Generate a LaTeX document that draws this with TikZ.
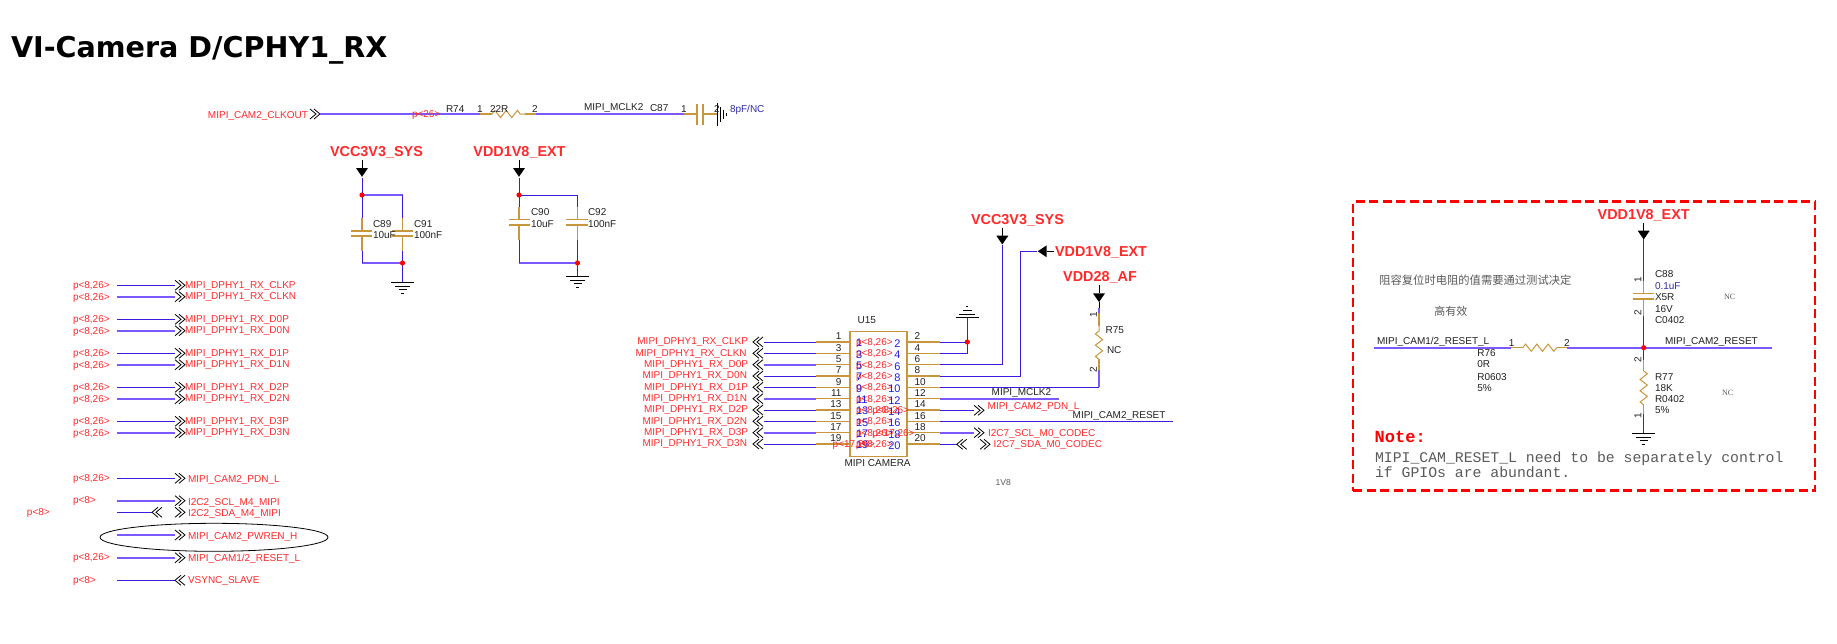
\documentclass[tikz,border=0pt]{standalone}
\usepackage{fontspec}
\setmainfont{Liberation Sans}
\newfontfamily\titlefont{DejaVu Sans}
\newfontfamily\monofont{Liberation Mono}
\newfontfamily\seriffont{Liberation Serif}
\newfontfamily\cjkfont{Noto Sans CJK SC}
\usetikzlibrary{shapes.geometric,decorations.pathmorphing}
\definecolor{wiredark}{HTML}{3A1BE0}
\definecolor{wirelight}{HTML}{7B58FF}
\definecolor{tan}{HTML}{C8963C}
\definecolor{lblred}{HTML}{FF2A2A}
\definecolor{lblblack}{HTML}{222222}
\definecolor{valblue}{HTML}{2F2FA8}
\definecolor{pinblue}{HTML}{2020E0}
\definecolor{notegray}{HTML}{5A5A5A}
\newcounter{tn}
\newcommand\lab[4][]{\stepcounter{tn}\node[txt,#1] (t\arabic{tn}) at (#2,#3) {#4};}
\tikzset{
  txt/.style={inner sep=0pt,outer sep=0pt,font=\fontsize{10}{12}\selectfont,text height=7.2pt,text depth=0pt,text=lblblack},
  rt/.style={text=lblred},
  pb/.style={text=pinblue,font=\fontsize{11}{12}\selectfont,text height=7.9pt},
  W/.style={anchor=west},
  E/.style={anchor=east},
  pwrlbl/.style={text=lblred,font=\fontsize{14.4}{16}\selectfont\bfseries,text height=10.3pt},
  wt/.style={draw=wiredark,line width=1pt},
  wk/.style={draw=wirelight,line width=1.6pt},
  tanw/.style={draw=tan,line width=1.1pt},
  plate/.style={draw=tan,line width=1.5pt},
  zigh/.style={draw=tan,line width=1pt,decorate,decoration={zigzag,segment length=11.3pt,amplitude=3.6pt}},
  gndw/.style={draw=black,line width=1pt},
  dot/.style={fill=red,draw=none},
  chevr/.pic={\draw[black,line width=.8pt] (0,-5)--(6,0)--(0,5) (4,-5)--(10,0)--(4,5);},
  chevl/.pic={\draw[black,line width=.8pt] (6,-5)--(0,0)--(6,5) (10,-5)--(4,0)--(10,5);},
  pwrdown/.pic={\draw[black,line width=.8pt] (0,-8)--(0,0); \fill[black] (-6,0)--(6,0)--(0,8.8)--cycle;},
  pwrleft/.pic={\draw[black,line width=.8pt] (0,0)--(7.5,0); \fill[black] (0,-6)--(0,6)--(-9,0)--cycle;},
  gnddown/.pic={\draw[gndw] (-11.5,0)--(11.5,0) (-7.5,4)--(7.5,4) (-4,7.5)--(4,7.5) (-1.5,11)--(1.5,11);},
  gndup/.pic={\draw[gndw] (-11.5,0)--(11.5,0) (-8,-3.3)--(8,-3.3) (-4.3,-7)--(4.3,-7) (-1,-10.6)--(1,-10.6);},
}
\begin{document}
\begin{tikzpicture}[x=1pt,y=-1pt]
\useasboundingbox (0,0) rectangle (1837,643);
\fill[white] (0,0) rectangle (1837,643);
% title
\lab[W,font=\titlefont\bfseries\fontsize{28.6}{30}\selectfont,text=black,text height=20.8pt]{11}{47.5}{VI-Camera D/CPHY1\_RX}
% top clock line
\coordinate (clkS) at (320,114); \coordinate (r74a) at (480,114); \coordinate (r74b) at (492,114);
\coordinate (r74c) at (525,114); \coordinate (r74d) at (536,114); \coordinate (c87a) at (684,114);
\coordinate (c87b) at (697,114); \coordinate (c87c) at (703,114); \coordinate (c87d) at (717,114);
\pic at (310,114) {chevr};
\draw[wk] (clkS)--(r74a);
\draw[tanw] (r74a)--(r74b) (r74c)--(r74d);
\draw[zigh] (r74b)--(r74c);
\draw[wk] (r74d)--(c87a);
\draw[tanw] (c87a)--(c87b) (c87c)--(c87d);
\draw[plate] (697,104)--(697,125) (703,104)--(703,125);
\draw[gndw] (717,103)--(717,126) (720,107)--(720,122) (723,110)--(723,119) (726,113)--(726,116);
\lab[E,rt]{308}{115}{MIPI\_CAM2\_CLKOUT}
\lab[W,rt]{412}{114}{p<26>}
\lab[W]{446}{108.7}{R74}
\lab{480}{109}{1}
\lab[W]{490}{109}{22R}
\lab{535}{109}{2}
\lab[W]{584}{107}{MIPI\_MCLK2}
\lab[W]{650}{108}{C87}
\lab{684}{109}{1}
\lab{717}{109}{2}
\lab[W,text=valblue]{730}{109}{8pF/NC}
% VCC3V3 caps
\lab[pwrlbl]{376.5}{151}{VCC3V3\_SYS}
\pic at (362,168) {pwrdown};
\coordinate (n1) at (362,195); \coordinate (n2) at (402.5,263);
\coordinate (n1r) at (402.5,195); \coordinate (n2l) at (362,263);
\draw[wt] (362,178)--(n1);
\draw[wk] (n1)--(n1r);
\draw[wk] (n2l)--(n2);
\draw[wt] (n1)--(362,218) (362,251)--(n2l) (n1r)--(402.5,218) (402.5,251)--(n2);
\draw[tanw] (362,218)--(362,231) (362,236)--(362,251) (402.5,218)--(402.5,231) (402.5,236)--(402.5,251);
\draw[plate] (351,231)--(372,231) (351,236)--(372,236) (392,231)--(413,231) (392,236)--(413,236);
\draw[wt] (n2)--(402.5,282);
\pic at (402.5,282) {gnddown};
\fill[dot] (n1) circle (2.6pt) (n2) circle (2.6pt);
\lab[W]{373}{224}{C89}\lab[W]{373}{235}{10uF}\lab[W]{414}{224}{C91}\lab[W]{414}{235}{100nF}
% VDD1V8 caps
\lab[pwrlbl]{519.5}{151}{VDD1V8\_EXT}
\pic at (519,168) {pwrdown};
\coordinate (n3) at (519,195); \coordinate (n4) at (577.5,263);
\coordinate (n3r) at (577.5,195); \coordinate (n4l) at (519,263);
\draw[wt] (519,178)--(n3)--(n3r);
\draw[wk] (n4l)--(n4);
\draw[wt] (n3)--(519,207) (519,240)--(n4l) (n3r)--(577.5,207) (577.5,240)--(n4);
\draw[tanw] (519,207)--(519,219.5) (519,225)--(519,240) (577.5,207)--(577.5,219.5) (577.5,225)--(577.5,240);
\draw[plate] (509,219.5)--(530,219.5) (509,225)--(530,225) (566,219.5)--(588,219.5) (566,225)--(588,225);
\draw[wt] (n4)--(577.5,276);
\pic at (577.5,276) {gnddown};
\fill[dot] (n3) circle (2.6pt) (n4) circle (2.6pt);
\lab[W]{531}{212}{C90}\lab[W]{531}{224}{10uF}\lab[W]{588}{212}{C92}\lab[W]{588}{224}{100nF}
% left list
\foreach \y/\s/\t in {285.3/wt/CLKP,296.7/wk/CLKN,319.3/wt/D0P,330.7/wk/D0N,353.3/wt/D1P,364.7/wk/D1N,387.3/wt/D2P,398.7/wk/D2N,421.3/wt/D3P,432.7/wk/D3N}{
  \coordinate (lA) at (117.3,\y); \coordinate (lB) at (175,\y);
  \draw[\s] (lA)--(lB);
  \pic at (175,\y) {chevr};
  \lab[W,rt]{73}{\y-0.2}{p<8,26>}
  \lab[W,rt]{185}{\y-0.4}{MIPI\_DPHY1\_RX\_\t}
}
\foreach \y/\s in {478.3/wt,500.7/wk,535/wk,557.7/wk}{
  \coordinate (lA) at (117.3,\y); \coordinate (lB) at (175,\y);
  \draw[\s] (lA)--(lB);
  \pic at (175,\y) {chevr};
}
\coordinate (sdaA) at (117.3,512.3); \coordinate (sdaB) at (152,512.3);
\draw[wt] (sdaA)--(sdaB);
\pic at (152,512.3) {chevl};
\pic at (175,512.3) {chevr};
\coordinate (vsA) at (117.3,580.3); \coordinate (vsB) at (175,580.3);
\draw[wt] (vsA)--(vsB);
\pic at (175,580.3) {chevl};
\lab[W,rt]{73}{477.6}{p<8,26>}
\lab[W,rt]{73}{499.8}{p<8>}
\lab[W,rt]{27}{512}{p<8>}
\lab[W,rt]{73}{556.6}{p<8,26>}
\lab[W,rt]{73}{580}{p<8>}
\lab[W,rt]{188}{478.4}{MIPI\_CAM2\_PDN\_L}
\lab[W,rt]{188}{501.8}{I2C2\_SCL\_M4\_MIPI}
\lab[W,rt]{188}{512.8}{I2C2\_SDA\_M4\_MIPI}
\lab[W,rt]{188}{535.8}{MIPI\_CAM2\_PWREN\_H}
\lab[W,rt]{188}{557.8}{MIPI\_CAM1/2\_RESET\_L}
\lab[W,rt]{188}{580.3}{VSYNC\_SLAVE}
\node[ellipse,draw=black,line width=.8pt,minimum width=228pt,minimum height=28pt,inner sep=0pt] (pwrring) at (214,537.3) {};
% connector U15
\node[draw=tan,line width=1.3pt,minimum width=57pt,minimum height=125pt,inner sep=0pt,anchor=north west] (u15) at (849.3,330.7) {};
\foreach \a/\b/\y/\s/\t/\xe in {1/2/342/wt/CLKP/748,3/4/353.3/wt/CLKN/746.7,5/6/364.7/wk/D0P/748,7/8/376/wt/D0N/747,9/10/387.3/wt/D1P/748,11/12/398.7/wk/D1N/747,13/14/410/wt/D2P/748,15/16/421.3/wt/D2N/747,17/18/432.7/wk/D3P/748,19/20/444/wt/D3N/747}{
  \coordinate (pA) at (764,\y); \coordinate (pB) at (816,\y); \coordinate (pC) at (849.3,\y);
  \coordinate (qA) at (906.3,\y); \coordinate (qB) at (940,\y);
  \draw[\s] (pA)--(pB);
  \draw[tanw] (pB)--(pC) (qA)--(qB);
  \pic at (753,\y) {chevl};
  \lab[E,rt]{\xe}{\y-0.7}{MIPI\_DPHY1\_RX\_\t}
  \lab[E]{841.5}{\y-5.7}{\a}
  \lab[W]{914.5}{\y-5.7}{\b}
  \lab[W,rt]{856}{\y-0.3}{p<8,26>}
  \lab[W,pb]{856}{\y+0.9}{\a}
  \lab[E,pb]{900.5}{\y+1.7}{\b}
}
\lab[W,rt]{872.3}{410}{p<8,26>}
\lab[W,rt]{872.3}{432.7}{p<17,26>}
\lab[W,rt]{832.7}{444}{p<17,26>}
\lab[W]{857.7}{320}{U15}
\lab{877.6}{463}{MIPI CAMERA}
% right side of connector
\coordinate (gA) at (940,342); \coordinate (gB) at (967.3,342);
\coordinate (gC) at (940,353.3); \coordinate (gD) at (967.3,353.3); \coordinate (gE) at (967.3,317.3);
\draw[wt] (gA)--(gB) (gC)--(gD)--(gE);
\pic at (967.3,317.3) {gndup};
\fill[dot] (gB) circle (2.6pt);
\coordinate (vA) at (940,364.7); \coordinate (vB) at (1002.3,364.7); \coordinate (vC) at (1002.3,245);
\draw[wt] (vA)--(vB)--(vC);
\pic at (1002.3,235.7) {pwrdown};
\lab[pwrlbl]{1017.5}{219}{VCC3V3\_SYS}
\coordinate (dA) at (940,376); \coordinate (dB) at (1020.7,376); \coordinate (dC) at (1020.7,251.3); \coordinate (dD) at (1037.3,251.3);
\draw[wt] (dA)--(dB)--(dC)--(dD);
\pic at (1046.7,251.3) {pwrleft};
\lab[pwrlbl,W]{1055}{251}{VDD1V8\_EXT}
\coordinate (aA) at (940,387.3); \coordinate (aB) at (1099,387.3); \coordinate (aC) at (1099,370);
\coordinate (aD) at (1099,359.3); \coordinate (aE) at (1099,326); \coordinate (aF) at (1099,313.3); \coordinate (aG) at (1099,301.7);
\draw[wt] (aA)--(aB);
\draw[wk] (aB)--(aC) (aF)--(1099,308);
\draw[tanw] (aC)--(aD) (aE)--(aF);
\draw[zigh] (aD)--(aE);
\draw[black,line width=1pt] (aG)--(1099,308);
\pic at (1099,293.3) {pwrdown};
\lab[pwrlbl]{1100}{276.3}{VDD28\_AF}
\lab[rotate=90]{1093.3}{314.3}{1}
\lab[rotate=90]{1093.3}{369.3}{2}
\lab[W]{1105.7}{330.3}{R75}
\lab[W]{1107}{350.3}{NC}
\coordinate (mA) at (940,398.7); \coordinate (mB) at (1059.3,398.7);
\draw[wk] (mA)--(mB);
\lab[W]{991.7}{391.7}{MIPI\_MCLK2}
\coordinate (pdA) at (940,410.3); \coordinate (pdB) at (974,410.3);
\draw[wt] (pdA)--(pdB);
\pic at (974,410.3) {chevr};
\lab[W,rt]{987.7}{406.3}{MIPI\_CAM2\_PDN\_L}
\coordinate (rsA) at (940,421.3); \coordinate (rsB) at (1172.7,421.3);
\draw[wt] (rsA)--(rsB);
\lab[W]{1072.7}{414.7}{MIPI\_CAM2\_RESET}
\coordinate (scA) at (940,432.7); \coordinate (scB) at (974,432.7);
\draw[wk] (scA)--(scB);
\pic at (974,432.7) {chevr};
\lab[W,rt]{988}{433.3}{I2C7\_SCL\_M0\_CODEC}
\coordinate (sdA) at (940,444.3); \coordinate (sdB) at (956.7,444.3);
\draw[wt] (sdA)--(sdB);
\pic at (956.7,444.3) {chevl};
\pic at (980,444.3) {chevr};
\lab[W,rt]{993.7}{444.3}{I2C7\_SDA\_M0\_CODEC}
\lab[W,text=notegray,font=\fontsize{8.6}{10}\selectfont]{995.7}{482}{1V8}
% red note box
\node[draw=red,line width=2.4pt,dash pattern=on 9pt off 4.5pt,minimum width=462pt,minimum height=289pt,inner sep=0pt,anchor=north west] (notebox) at (1352,200.3) {};
\lab[pwrlbl]{1643.7}{214}{VDD1V8\_EXT}
\pic at (1643.7,230.7) {pwrdown};
\coordinate (j) at (1643.7,347.7);
\coordinate (c88a) at (1643.7,280.7); \coordinate (c88b) at (1643.7,293.3); \coordinate (c88c) at (1643.7,299); \coordinate (c88d) at (1643.7,315.7);
\draw[wt] (1643.7,239)--(c88a);
\draw[tanw] (c88a)--(c88b) (c88c)--(c88d);
\draw[plate] (1633,293.3)--(1654.3,293.3) (1633,299)--(1654.3,299);
\draw[wt] (c88d)--(j);
\coordinate (hA) at (1374,347.7); \coordinate (hB) at (1511,347.7); \coordinate (hC) at (1522.7,347.7);
\coordinate (hD) at (1556.7,347.7); \coordinate (hE) at (1567,347.7); \coordinate (hF) at (1772,347.7);
\draw[wk] (hA)--(hB) (hE)--(hF);
\draw[tanw] (hB)--(hC) (hD)--(hE);
\draw[zigh] (hC)--(hD);
\coordinate (r77a) at (1643.7,360); \coordinate (r77b) at (1643.7,371); \coordinate (r77c) at (1643.7,405); \coordinate (r77d) at (1643.7,414); \coordinate (r77e) at (1643.7,433);
\draw[wt] (j)--(r77a) (r77d)--(r77e);
\draw[tanw] (r77a)--(r77b) (r77c)--(r77d);
\draw[zigh] (r77b)--(r77c);
\pic at (1643.7,433) {gnddown};
\fill[dot] (j) circle (2.6pt);
\lab[rotate=90]{1637.7}{280}{1}\lab[rotate=90]{1637.7}{313}{2}
\lab[rotate=90]{1637.7}{359.7}{2}\lab[rotate=90]{1637.7}{415.3}{1}
\lab[W]{1655}{274.3}{C88}
\lab[W,text=valblue]{1655}{285.7}{0.1uF}
\lab[W]{1655}{296.7}{X5R}\lab[W]{1655}{308.7}{16V}\lab[W]{1655}{319.7}{C0402}
\lab[W,text=notegray,font=\seriffont\fontsize{8}{10}\selectfont]{1724}{296}{NC}
\lab[W,text=notegray,font=\seriffont\fontsize{8}{10}\selectfont]{1722}{392}{NC}
\lab[W]{1377}{340.7}{MIPI\_CAM1/2\_RESET\_L}
\lab{1511.7}{342.7}{1}\lab{1567}{342.7}{2}
\lab[W]{1665}{340.7}{MIPI\_CAM2\_RESET}
\lab[W]{1477.3}{353.3}{R76}\lab[W]{1477.3}{364.3}{0R}\lab[W]{1477.3}{376.7}{R0603}\lab[W]{1477.3}{387.7}{5\%}
\lab[W]{1655}{376.7}{R77}\lab[W]{1655}{387.7}{18K}\lab[W]{1655}{398.7}{R0402}\lab[W]{1655}{410.3}{5\%}
\lab[W,text=notegray,font=\cjkfont\fontsize{11.3}{13}\selectfont]{1379.3}{280.7}{阻容复位时电阻的值需要通过测试决定}
\lab[W,text=notegray,font=\cjkfont\fontsize{11}{13}\selectfont]{1434.3}{311.7}{高有效}
\lab[W,text=red,font=\monofont\bfseries\fontsize{17}{19}\selectfont,text height=10pt]{1374.7}{437}{Note:}
\lab[W,text=notegray,font=\monofont\fontsize{14.8}{17}\selectfont,text height=9pt]{1375}{458}{MIPI\_CAM\_RESET\_L need to be separately control}
\lab[W,text=notegray,font=\monofont\fontsize{14.8}{17}\selectfont,text height=9pt]{1375}{472.7}{if GPIOs are abundant.}
\end{tikzpicture}
\end{document}
